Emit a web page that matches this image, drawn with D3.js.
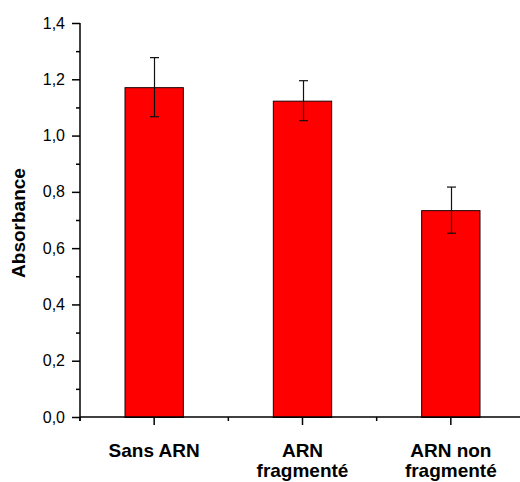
<!DOCTYPE html>
<html>
<head>
<meta charset="utf-8">
<script src="https://cdn.jsdelivr.net/npm/d3@7"></script>
<style>
  html, body { margin: 0; padding: 0; background: #fff; }
  svg { display: block; }
</style>
</head>
<body>
<svg id="chart" width="520" height="482"></svg>
<script>
const categories = [["Sans ARN"], ["ARN", "fragmenté"], ["ARN non", "fragmenté"]];
const categoryKeys = ["Sans ARN", "ARN fragmenté", "ARN non fragmenté"];
const values = [1.172, 1.124, 0.735];
const errors = [0.105, 0.071, 0.082];
const yTickValues = [0, 0.2, 0.4, 0.6, 0.8, 1.0, 1.2, 1.4];
const yMinorTickValues = [0.1, 0.3, 0.5, 0.7, 0.9, 1.1, 1.3];
const yLabel = "Absorbance";

(function () {
const svg = d3.select("#chart");
const mLeft = 80, mRight = 525, mTop = 23, mBottom = 417;
const fmt = d => d3.format(".1f")(d).replace(".", ",");

const x = d3.scaleBand().domain(categoryKeys).range([mLeft, mRight]).paddingInner(0.6).paddingOuter(0.3);
const y = d3.scaleLinear().domain([0, 1.4]).range([mBottom, mTop]);

// Bars
svg.append("g").selectAll("rect").data(values).join("rect")
  .attr("x", (d, i) => x(categoryKeys[i]) + 0.5)
  .attr("y", d => y(d) + 0.5)
  .attr("width", x.bandwidth() - 1)
  .attr("height", d => mBottom - y(d))
  .attr("fill", "#ff0000")
  .attr("stroke", "#1a0000")
  .attr("stroke-width", 1);

// Error bars
const eg = svg.append("g").attr("stroke", "#111").attr("stroke-width", 1.2);
values.forEach((v, i) => {
  const cx = Math.round(x(categoryKeys[i]) + x.bandwidth() / 2) + 0.5;
  const y1 = y(v + errors[i]), y2 = y(v - errors[i]);
  eg.append("line").attr("x1", cx).attr("x2", cx).attr("y1", y1).attr("y2", y2);
  eg.append("line").attr("x1", cx - 4.5).attr("x2", cx + 4.5).attr("y1", y1).attr("y2", y1);
  eg.append("line").attr("x1", cx - 4.5).attr("x2", cx + 4.5).attr("y1", y2).attr("y2", y2);
});

// Y axis
const yAxis = d3.axisLeft(y).tickValues(yTickValues).tickFormat(fmt).tickSize(8).tickPadding(7);
const yg = svg.append("g").attr("transform", `translate(${mLeft},0)`).call(yAxis);
yg.select(".domain").attr("d", `M0,${mTop}V${mBottom + 4}`).attr("stroke", "#000").attr("stroke-width", 1.5);
yg.selectAll(".tick line").attr("stroke", "#000").attr("stroke-width", 1.5);
yg.selectAll(".tick text").attr("font-family", "Liberation Sans, Arial, sans-serif").attr("font-size", 16).attr("fill", "#000");
const yMinor = svg.append("g").attr("transform", `translate(${mLeft},0)`)
  .call(d3.axisLeft(y).tickValues(yMinorTickValues).tickSize(4).tickFormat(""));
yMinor.select(".domain").remove();
yMinor.selectAll(".tick line").attr("stroke", "#000").attr("stroke-width", 1.5);

// X axis
const xAxis = d3.axisBottom(x).tickSize(8).tickFormat("");
const xg = svg.append("g").attr("transform", `translate(0,${mBottom})`).call(xAxis);
xg.select(".domain").attr("d", `M${mLeft},0H${mRight}`).attr("stroke", "#000").attr("stroke-width", 1.5);
xg.selectAll(".tick line").attr("stroke", "#000").attr("stroke-width", 1.5);
const boundaries = categoryKeys.map(k => x(k) - x.step() * x.paddingInner() / 2).concat([mRight]);
xg.selectAll("line.minor").data(boundaries).join("line").attr("class", "minor")
  .attr("x1", d => d).attr("x2", d => d).attr("y1", 0).attr("y2", 4)
  .attr("stroke", "#000").attr("stroke-width", 1.5);

// X labels
const lg = svg.append("g").attr("font-family", "Liberation Sans, Arial, sans-serif")
  .attr("font-weight", "bold").attr("font-size", 19).attr("text-anchor", "middle").attr("fill", "#000");
categories.forEach((lines, i) => {
  const cx = x(categoryKeys[i]) + x.bandwidth() / 2;
  lines.forEach((t, j) => {
    lg.append("text").attr("x", cx).attr("y", 457 + j * 20).text(t);
  });
});

// Y label
svg.append("text")
  .attr("transform", `translate(25,${(163 + 283) / 2}) rotate(-90)`)
  .attr("text-anchor", "middle")
  .attr("font-family", "Liberation Sans, Arial, sans-serif")
  .attr("font-weight", "bold").attr("font-size", 19).attr("fill", "#000")
  .text(yLabel);
})();
</script>
</body>
</html>
